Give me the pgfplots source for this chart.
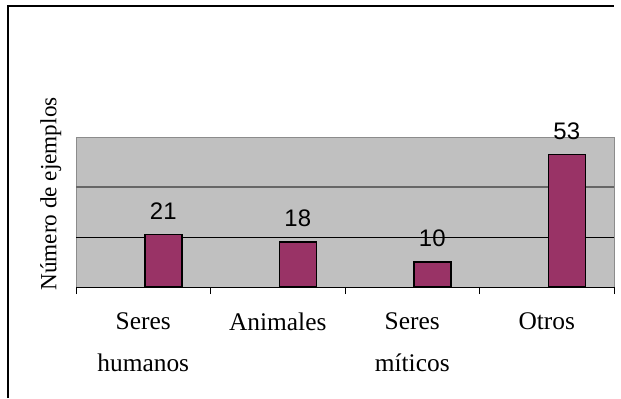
\documentclass[border=0pt]{standalone}
\usepackage{fontspec}
\setmainfont{Liberation Serif}
\newfontfamily\arialf{Liberation Sans}
\usepackage{pgfplots}
\pgfplotsset{compat=1.18}
\definecolor{plum}{HTML}{993366}
\definecolor{plotgray}{HTML}{C0C0C0}
\begin{document}
\begin{tikzpicture}[x=1bp,y=1bp]
\useasboundingbox (0,0) rectangle (621,398);
\draw[line width=1.6bp] (8,0) -- (8,392) -- (614,392);
\begin{axis}[
  at={(76bp,111bp)}, anchor=south west,
  width=538bp, height=150bp, scale only axis,
  xmin=-0.5, xmax=3.5, ymin=0, ymax=60,
  clip=false,
  /pgf/number format/assume math mode=true,
  axis line style={draw=none},
  axis background/.style={fill=plotgray, draw=black!45, line width=1bp},
  xtick={0,1,2,3},
  xticklabels={{Seres\\humanos},Animales,{Seres\\míticos},Otros},
  xtick pos=lower, ytick pos=left,
  major tick length=0pt,
  minor xtick={-0.5,0.5,1.5,2.5,3.5},
  minor tick length=7bp, tick align=outside,
  minor x tick style={black, line width=0.8bp},
  xticklabel style={font=\fontsize{25.5}{42}\selectfont, align=center, yshift=-22bp},
  ytick={0,20}, yticklabels={},
  ymajorgrids, major grid style={black, line width=0.9bp},
  extra y ticks={40}, extra y tick labels={},
  extra y tick style={major grid style={draw=black!60, line width=1.1bp}},
  ylabel={Número de ejemplos},
  ylabel style={font=\fontsize{23.3}{24}\selectfont, at={(axis description cs:-0.047,0.62)}, anchor=center},
]
\addplot[ybar, bar width=37bp, bar shift=20bp, fill=plum, draw=black, line width=1.5bp,
  nodes near coords,
  every node near coord/.append style={font=\arialf\fontsize{24}{26}\selectfont, black, xshift=20bp, yshift=11bp}]
  coordinates {(0,21) (1,18) (2,10) (3,53)};
\end{axis}
\end{tikzpicture}
\end{document}
